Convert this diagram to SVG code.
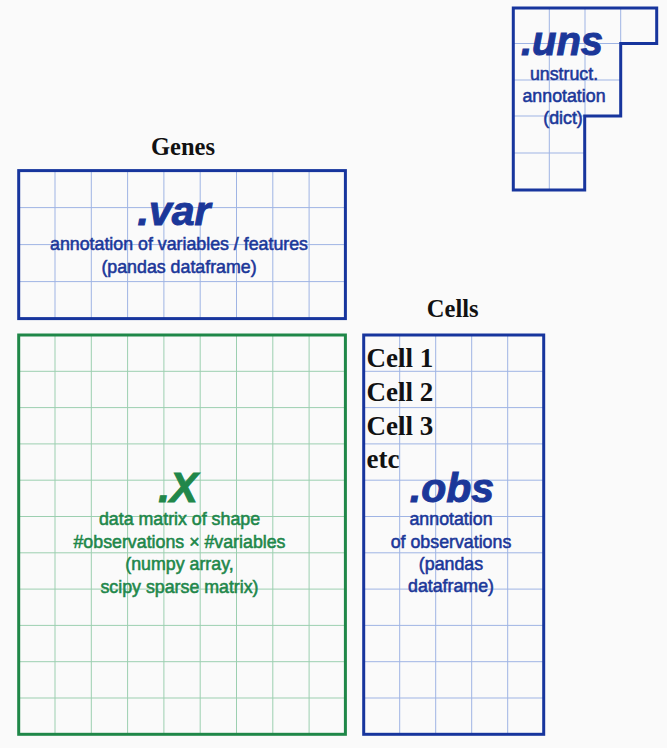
<svg xmlns="http://www.w3.org/2000/svg" width="667" height="748" viewBox="0 0 667 748">
<style>
.gb{stroke:#9fb4e4;stroke-width:1;fill:none}
.gg{stroke:#9ccfb0;stroke-width:1;fill:none}
.bb{stroke:#17359d;stroke-width:3;fill:none}
.bg{stroke:#1f8748;stroke-width:3;fill:none}
.big{font-family:"Liberation Sans",Arial,sans-serif;font-weight:bold;font-style:italic;text-anchor:middle}
.sub{font-family:"Liberation Sans",Arial,sans-serif;font-size:17.8px;text-anchor:middle;stroke-width:0.55}
.blue{fill:#1b3799;stroke:#1b3799}
.green{fill:#21874a;stroke:#21874a}
.ttl{font-family:"Liberation Serif","Times New Roman",serif;font-weight:bold;fill:#111}
</style>
<rect x="0" y="0" width="667" height="748" fill="#fafafa"/>

<g id="uns">
<path class="gb" d="M549.3,8V190M585,8V116M620.7,8V43.5M513.3,43.5H620.7M513.3,80H620.7M513.3,116H584.7M513.3,153H584.7"/>
<path class="bb" d="M513.3,8H656.7V43.5H620.7V116H584.7V190H513.3Z"/>
<text class="big blue" x="562" y="55" font-size="40" stroke="none">.uns</text>
<text class="sub blue" x="564" y="79.5">unstruct.</text>
<text class="sub blue" x="564" y="101.5">annotation</text>
<text class="sub blue" x="563" y="123.5">(dict)</text>
</g>

<g id="var">
<text class="ttl" x="183" y="155" font-size="24.5" text-anchor="middle">Genes</text>
<path class="gb" d="M55,170.6V318.6M91.3,170.6V318.6M127.6,170.6V318.6M163.9,170.6V318.6M200.2,170.6V318.6M236.5,170.6V318.6M272.8,170.6V318.6M309.1,170.6V318.6M18.7,207.6H345.4M18.7,244.6H345.4M18.7,281.6H345.4"/>
<rect class="bb" x="18.7" y="170.6" width="326.7" height="148"/>
<text class="big blue" x="174" y="225" font-size="41" stroke="none">.var</text>
<text class="sub blue" x="179" y="250">annotation of variables / features</text>
<text class="sub blue" x="179" y="273">(pandas dataframe)</text>
</g>

<g id="X">
<path class="gg" d="M55,335V734.3M91.3,335V734.3M127.6,335V734.3M163.9,335V734.3M200.2,335V734.3M236.5,335V734.3M272.8,335V734.3M309.1,335V734.3M18.7,371.3H345.4M18.7,407.6H345.4M18.7,443.9H345.4M18.7,480.2H345.4M18.7,516.5H345.4M18.7,552.8H345.4M18.7,589.1H345.4M18.7,625.4H345.4M18.7,661.7H345.4M18.7,698H345.4"/>
<rect class="bg" x="18.7" y="335" width="326.7" height="399.3"/>
<text class="big green" x="178" y="501.7" font-size="42" stroke="none">.X</text>
<text class="sub green" x="179.5" y="525">data matrix of shape</text>
<text class="sub green" x="179.5" y="547.7">#observations × #variables</text>
<text class="sub green" x="179.5" y="570">(numpy array,</text>
<text class="sub green" x="179.5" y="592.7">scipy sparse matrix)</text>
</g>

<g id="obs">
<text class="ttl" x="452.7" y="317.3" font-size="24.5" text-anchor="middle">Cells</text>
<path class="gb" d="M399.7,335V734.3M435.7,335V734.3M471.7,335V734.3M507.7,335V734.3M363.7,371.3H543.7M363.7,407.6H543.7M363.7,443.9H543.7M363.7,480.2H543.7M363.7,516.5H543.7M363.7,552.8H543.7M363.7,589.1H543.7M363.7,625.4H543.7M363.7,661.7H543.7M363.7,698H543.7"/>
<rect class="bb" x="363.7" y="335" width="180" height="399.3"/>
<text class="ttl" x="366.5" y="367.3" font-size="27">Cell 1</text>
<text class="ttl" x="366.5" y="401" font-size="27">Cell 2</text>
<text class="ttl" x="366.5" y="435" font-size="27">Cell 3</text>
<text class="ttl" x="366.5" y="468.3" font-size="27">etc</text>
<text class="big blue" x="452" y="501.7" font-size="41" stroke="none">.obs</text>
<text class="sub blue" x="451" y="525">annotation</text>
<text class="sub blue" x="451" y="547.7">of observations</text>
<text class="sub blue" x="451" y="570">(pandas</text>
<text class="sub blue" x="451" y="592.3">dataframe)</text>
</g>

<g id="connectors"></g>
</svg>
